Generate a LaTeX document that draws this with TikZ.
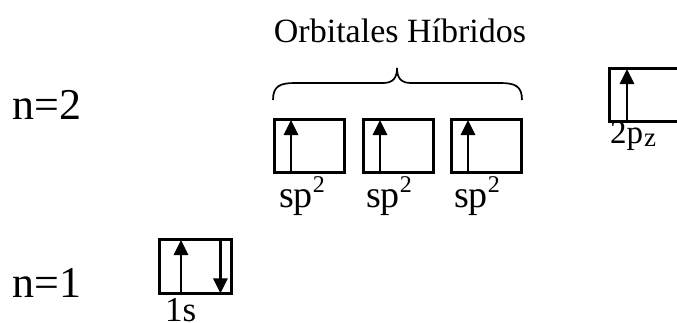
\documentclass[tikz,border=0pt]{standalone}
\usepackage{fontspec}
\setmainfont{Liberation Serif}
\usetikzlibrary{arrows.meta}
\tikzset{
  orb/.style={draw, line width=3.4pt, minimum width=70pt, minimum height=53pt, inner sep=0pt, anchor=north west},
  el/.style={line width=2.8pt, -{Triangle[width=14pt,length=15pt]}},
  lvl/.style={font=\fontsize{44}{50}\selectfont, anchor=base west, inner sep=0pt},
  lab/.style={font=\fontsize{38}{42}\selectfont, anchor=base west, inner sep=0pt},
}
\newcommand{\sptwo}{sp\raisebox{15pt}{\fontsize{24}{24}\selectfont 2}}
\begin{document}
\begin{tikzpicture}[x=1pt,y=-1pt]
\clip (0,0) rectangle (677,322);
\fill[white] (0,0) rectangle (677,322);
% title
\node[font=\fontsize{34}{40}\selectfont, anchor=base, inner sep=0pt] (title) at (400,42) {Orbitales Híbridos};
% brace
\draw[line width=1.7pt] (273,100) .. controls (273,86) and (280,83) .. (295,83) -- (383,83)
   .. controls (393,83) and (397,78) .. (397,68)
   .. controls (397,78) and (401,83) .. (411,83) -- (500,83)
   .. controls (515,83) and (522,86) .. (522,100);
% levels
\node[lvl] (n2) at (12,119) {n=2};
\node[lvl] (n1) at (12,297) {n=1};
% sp2 boxes
\node[orb] (b1) at (273,118) {};
\node[orb] (b2) at (362,118) {};
\node[orb] (b3) at (450,118) {};
\foreach \b in {b1,b2,b3}{
  \draw[el] ([xshift=18pt]\b.south west) -- ([xshift=18pt,yshift=-2pt]\b.north west);
}
\node[lab] (l1) at (279,207) {\sptwo};
\node[lab] (l2) at (366,207) {\sptwo};
\node[lab] (l3) at (454,207) {\sptwo};
% 2pz box
\node[orb, minimum width=90pt] (bp) at (608,67) {};
\draw[el] ([xshift=19pt]bp.south west) -- ([xshift=19pt,yshift=-2pt]bp.north west);
\node[font=\fontsize{33}{36}\selectfont, anchor=base west, inner sep=0pt] (lp) at (610,143) {2p\kern1pt{\fontsize{27}{27}\selectfont\raisebox{-3pt}{z}}};
% 1s box
\node[orb, minimum width=72pt, minimum height=54pt] (bs) at (158,238) {};
\draw[el] ([xshift=23pt]bs.south west) -- ([xshift=23pt,yshift=-2pt]bs.north west);
\draw[el] ([xshift=-13pt]bs.north east) -- ([xshift=-13pt,yshift=2pt]bs.south east);
\node[font=\fontsize{35}{40}\selectfont, anchor=base west, inner sep=0pt] (ls) at (165,321) {1s};
\end{tikzpicture}
\end{document}
